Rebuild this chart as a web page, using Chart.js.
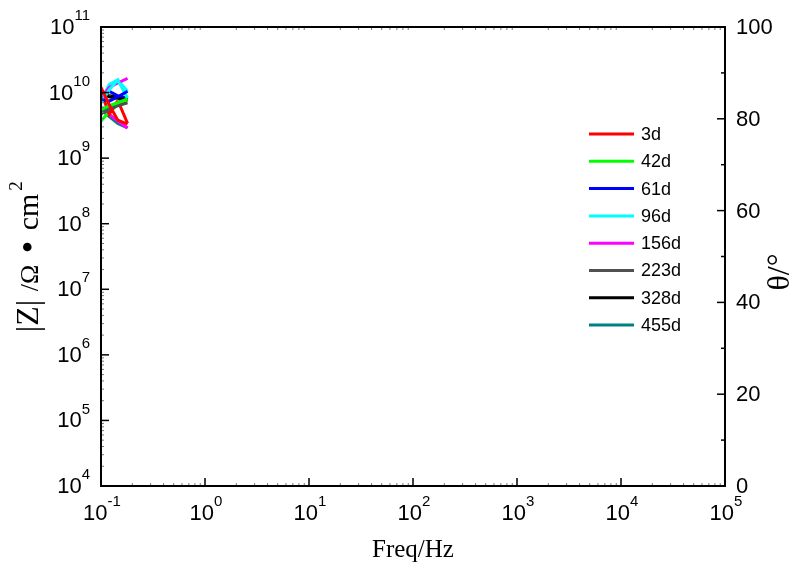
<!DOCTYPE html>
<html>
<head>
<meta charset="utf-8">
<script src="https://cdn.jsdelivr.net/npm/chart.js@4/dist/chart.umd.min.js"></script>
<style>
  body { margin: 0; background: #fff; }
  canvas { display: block; }
</style>
</head>
<body>
<canvas id="eis" width="795" height="565"></canvas>
<script>
// frequency points (Hz)
const freq = [0.1, 0.12, 0.145, 0.18];

const seriesNames = ['3d', '42d', '61d', '96d', '156d', '223d', '328d', '455d'];

// |Z| values (ohm cm2)
const z3d   = [1.2e10, 6.5e9, 3.8e9, 3.3e9];
const z42d  = [5.5e9, 6.3e9, 7.0e9, 8.0e9];
const z61d  = [8.0e9, 7.4e9, 8.6e9, 1.05e10];
const z96d  = [7.0e9, 1.1e10, 1.55e10, 8.2e9];
const z156d = [8.0e9, 1.2e10, 1.4e10, 1.65e10];
const z223d = [4.8e9, 5.5e9, 6.3e9, 7.0e9];
const z328d = [9.6e9, 8.6e9, 8.2e9, 7.8e9];
const z455d = [5.0e9, 6.0e9, 7.0e9, 8.3e9];
const zExtra = [9.2e9, 8.6e9, 8.0e9, 7.6e9];

// phase angle (deg)
const th3d   = [86, 81, 84, 79];
const th42d  = [79.5, 81.5, 83, 84];
const th61d  = [84.5, 86, 85, 84.5];
const th96d  = [84, 87.5, 88.5, 86];
const th156d = [82.5, 81, 79.5, 78];
const th223d = [81, 82.5, 83.5, 84.5];
const th328d = [85.5, 85, 84.8, 84.5];
const th455d = [82, 80.5, 79, 78];

const zSeries = [z3d, z42d, z61d, z96d, z156d, z223d, z328d, z455d];
const thSeries = [th3d, th42d, th61d, th96d, th156d, th223d, th328d, th455d];
const colors = ['#ff0000', '#00ff00', '#0000ff', '#00ffff', '#ff00ff', '#505050', '#000000', '#008080'];

const xTicks = [-1, 0, 1, 2, 3, 4, 5];
const yTicks = [4, 5, 6, 7, 8, 9, 10, 11];
const y2Ticks = [0, 20, 40, 60, 80, 100];

function pts(ys) {
  return freq.map(function(f, i) { return { x: f, y: ys[i] }; });
}

var datasets = [];
seriesNames.forEach(function(name, i) {
  datasets.push({ label: name, data: pts(zSeries[i]), yAxisID: 'y', borderColor: colors[i], inLegend: true });
});
datasets.push({ label: 'extra', data: pts(zExtra), yAxisID: 'y', borderColor: '#ffff00' });
seriesNames.forEach(function(name, i) {
  datasets.push({ label: name + ' theta', data: pts(thSeries[i]), yAxisID: 'y2', borderColor: colors[i] });
});
datasets.forEach(function(d) {
  d.borderWidth = 3;
  d.pointRadius = 0;
  d.fill = false;
  d.tension = 0;
});

var SANS = '"Liberation Sans", Arial, sans-serif';
var SERIF = '"Liberation Serif", "Times New Roman", serif';

function powLabel(ctx, exp, x, y, align) {
  ctx.font = '22px ' + SANS;
  var wb = ctx.measureText('10').width;
  ctx.font = '15px ' + SANS;
  var we = ctx.measureText(String(exp)).width;
  var start = align === 'right' ? x - wb - we : x - (wb + we) / 2;
  ctx.textAlign = 'left';
  ctx.textBaseline = 'middle';
  ctx.font = '22px ' + SANS;
  ctx.fillText('10', start, y);
  ctx.font = '15px ' + SANS;
  ctx.fillText(String(exp), start + wb, y - 12);
}

function rotText(ctx, text, font, x, y) {
  ctx.save();
  ctx.translate(x, y);
  ctx.rotate(-Math.PI / 2);
  ctx.font = font;
  ctx.textAlign = 'center';
  ctx.textBaseline = 'alphabetic';
  ctx.fillText(text, 0, 0);
  ctx.restore();
}

var decor = {
  id: 'decor',
  afterDraw: function(chart) {
    var ctx = chart.ctx;
    var a = chart.chartArea;
    var sx = chart.scales.x, sy = chart.scales.y, sy2 = chart.scales.y2;
    ctx.save();
    ctx.strokeStyle = '#000';
    ctx.fillStyle = '#000';

    // frame
    ctx.lineWidth = 2;
    ctx.strokeRect(a.left, a.top, a.right - a.left, a.bottom - a.top);

    // x ticks
    xTicks.forEach(function(e) {
      var px = sx.getPixelForValue(Math.pow(10, e));
      ctx.lineWidth = 1.5;
      ctx.strokeStyle = '#000';
      ctx.beginPath();
      ctx.moveTo(px, a.bottom); ctx.lineTo(px, a.bottom - 8);
      ctx.stroke();
      if (e < 5) {
        ctx.lineWidth = 1;
        ctx.strokeStyle = '#777';
        for (var m = 2; m < 10; m++) {
          var mx = sx.getPixelForValue(m * Math.pow(10, e));
          ctx.beginPath();
          ctx.moveTo(mx, a.bottom - 1); ctx.lineTo(mx, a.bottom - 3);
          ctx.moveTo(mx, a.top + 1); ctx.lineTo(mx, a.top + 3);
          ctx.stroke();
        }
      }
      powLabel(ctx, e, px + 1, 514, 'center');
    });

    // left y ticks
    yTicks.forEach(function(e) {
      var py = sy.getPixelForValue(Math.pow(10, e));
      ctx.lineWidth = 1.5;
      ctx.strokeStyle = '#000';
      ctx.beginPath();
      ctx.moveTo(a.left, py); ctx.lineTo(a.left + 8, py);
      ctx.stroke();
      if (e < 11) {
        ctx.lineWidth = 1;
        ctx.strokeStyle = '#777';
        for (var m = 2; m < 10; m++) {
          var my = sy.getPixelForValue(m * Math.pow(10, e));
          ctx.beginPath();
          ctx.moveTo(a.left + 1, my); ctx.lineTo(a.left + 3, my);
          ctx.stroke();
        }
      }
      powLabel(ctx, e, 90, py + 1, 'right');
    });

    // right y ticks
    y2Ticks.forEach(function(v) {
      var py = sy2.getPixelForValue(v);
      ctx.lineWidth = 1.5;
      ctx.strokeStyle = '#000';
      ctx.beginPath();
      ctx.moveTo(a.right, py); ctx.lineTo(a.right - 8, py);
      ctx.stroke();
      if (v < 100) {
        var my = sy2.getPixelForValue(v + 10);
        ctx.beginPath();
        ctx.moveTo(a.right, my); ctx.lineTo(a.right - 4, my);
        ctx.stroke();
      }
      ctx.font = '22px ' + SANS;
      ctx.textAlign = 'left';
      ctx.textBaseline = 'middle';
      ctx.fillText(String(v), 736, py + 1);
    });

    // axis titles
    ctx.font = '25px ' + SERIF;
    ctx.textAlign = 'center';
    ctx.textBaseline = 'alphabetic';
    ctx.fillText('Freq/Hz', 413, 557);

    rotText(ctx, '|Z|', '32px ' + SERIF, 38, 316);
    rotText(ctx, '/\u03a9', '26px ' + SERIF, 38, 278);
    rotText(ctx, '\u2022', '36px ' + SERIF, 40, 247);
    rotText(ctx, 'cm', '30px ' + SERIF, 38, 212);
    rotText(ctx, '2', '19px ' + SERIF, 22, 186);

    rotText(ctx, '\u03b8/\u00b0', '32px ' + SERIF, 789, 272);

    // legend
    ctx.font = '18px ' + SANS;
    ctx.textAlign = 'left';
    ctx.textBaseline = 'middle';
    ctx.lineWidth = 3;
    var row = 0;
    chart.data.datasets.forEach(function(d) {
      if (!d.inLegend) return;
      var ly = 134 + row * 27.3;
      ctx.strokeStyle = d.borderColor;
      ctx.beginPath();
      ctx.moveTo(589, ly); ctx.lineTo(634, ly);
      ctx.stroke();
      ctx.fillStyle = '#000';
      ctx.fillText(d.label, 641, ly + 1);
      row++;
    });
    ctx.restore();
  }
};

new Chart(document.getElementById('eis'), {
  type: 'line',
  data: { datasets: datasets },
  options: {
    responsive: false,
    animation: false,
    layout: { padding: { top: 27, left: 0, right: 0, bottom: 0 } },
    plugins: { legend: { display: false }, tooltip: { enabled: false } },
    scales: {
      x: {
        type: 'logarithmic', min: 0.1, max: 1e5,
        ticks: { display: false }, grid: { display: false }, border: { display: false },
        afterFit: function(s) { s.height = 79; }
      },
      y: {
        type: 'logarithmic', position: 'left', min: 1e4, max: 1e11,
        ticks: { display: false }, grid: { display: false }, border: { display: false },
        afterFit: function(s) { s.width = 101; }
      },
      y2: {
        type: 'linear', position: 'right', min: 0, max: 100,
        ticks: { display: false }, grid: { display: false }, border: { display: false },
        afterFit: function(s) { s.width = 70; }
      }
    }
  },
  plugins: [decor]
});
</script>
</body>
</html>
